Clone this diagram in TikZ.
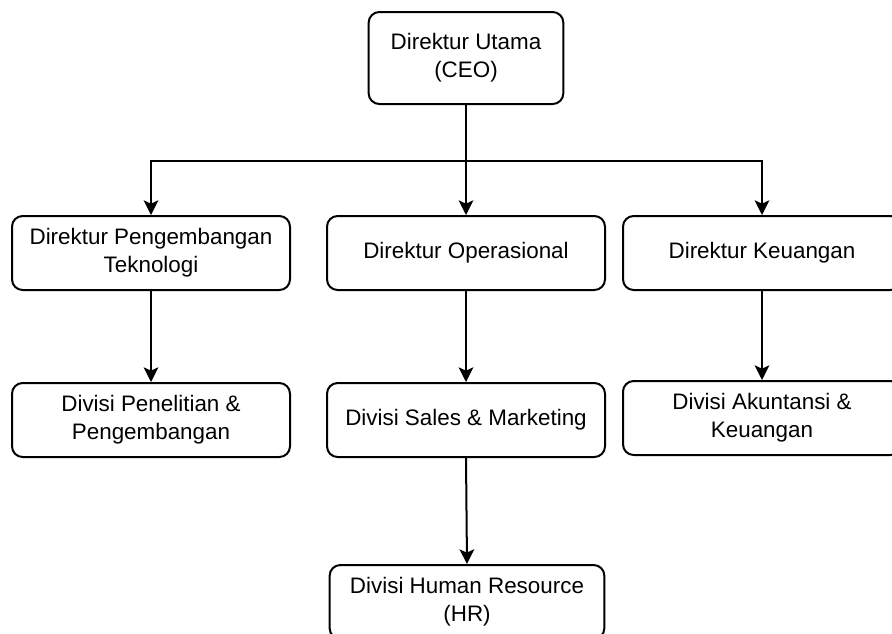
\documentclass[tikz,border=0pt]{standalone}
\usepackage{fontspec}
\setmainfont{Liberation Sans}
\usetikzlibrary{arrows.meta}
\begin{document}
\begin{tikzpicture}[x=0.75pt,y=-0.75pt,
  box/.style={draw=black,line width=1.5pt,rounded corners=8pt,fill=white,
    minimum width=208.5pt,minimum height=55.5pt,align=center,inner sep=0pt,
    font=\fontsize{16.8pt}{21pt}\selectfont},
  conn/.style={draw=black,line width=1.5pt,-{Stealth[length=11pt,width=11pt,inset=2.5pt]}}]
\useasboundingbox (0,0) rectangle (892,633);
\clip (0,0) rectangle (892,633);
\node[box,minimum width=146pt,minimum height=69pt] (ceo) at (466,58) {Direktur Utama\\(CEO)};
\node[box] (tek) at (151,253) {Direktur Pengembangan\\Teknologi};
\node[box] (ops) at (466,253) {Direktur Operasional};
\node[box] (keu) at (762,253) {Direktur Keuangan};
\node[box] (rnd) at (151,420) {Divisi Penelitian \&\\Pengembangan};
\node[box] (sal) at (466,420) {Divisi Sales \& Marketing};
\node[box] (aku) at (762,418) {Divisi Akuntansi \&\\Keuangan};
\node[box,minimum width=206pt] (hr) at (467,602) {Divisi Human Resource\\(HR)};
\coordinate (bl) at (151,161);
\coordinate (br) at (762,161);
\draw[conn] (ceo.south) -- (ops.north);
\draw[conn] (ceo.south |- bl) -- (bl) -- (tek.north);
\draw[conn] (ceo.south |- br) -- (br) -- (keu.north);
\draw[conn] (tek.south) -- (rnd.north);
\draw[conn] (ops.south) -- (sal.north);
\draw[conn] (keu.south) -- (aku.north);
\draw[conn] (sal.south) -- (hr.north);
\end{tikzpicture}
\end{document}
